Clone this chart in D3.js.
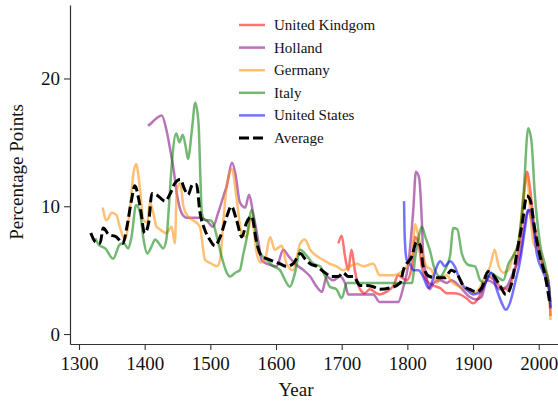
<!DOCTYPE html>
<html>
<head>
<meta charset="utf-8">
<script src="https://cdn.jsdelivr.net/npm/d3@7"></script>
<style>
  html, body { margin: 0; padding: 0; background: #fff; }
  svg { display: block; font-family: "Liberation Serif", "Times New Roman", serif; }
</style>
</head>
<body>
<svg id="chart" width="558" height="403"></svg>
<script>
// Series: [year, percentage points]
const unitedKingdom = [[1695,7.1],[1700,7.7],[1705,6.1],[1710,5.0],[1715,6.6],[1720,5.0],[1728,3.5],[1735,3.2],[1743,3.5],[1753,3.2],[1758,3.1],[1768,3.3],[1779,3.8],[1786,4.6],[1792,4.4],[1799,4.2],[1807,5.3],[1812,7.6],[1817,7.1],[1822,5.3],[1829,4.2],[1840,3.8],[1850,3.6],[1860,3.2],[1870,3.2],[1880,3.1],[1890,2.8],[1900,2.4],[1908,2.8],[1916,3.7],[1923,4.5],[1933,4.2],[1944,3.6],[1951,3.5],[1961,4.5],[1972,7.6],[1979,11.6],[1982,12.7],[1987,11.3],[1992,8.9],[1999,7.1],[2007,5.3],[2015,4.0],[2018,1.4]];

const holland = [[1405,16.3],[1410,16.5],[1416,16.8],[1426,17.1],[1433,16.0],[1439,14.4],[1444,12.9],[1449,11.0],[1456,9.5],[1464,9.1],[1484,9.1],[1494,8.9],[1504,8.4],[1512,9.5],[1520,10.8],[1525,11.6],[1533,13.4],[1538,12.6],[1545,10.3],[1553,9.9],[1559,10.9],[1565,9.5],[1573,7.3],[1578,5.8],[1586,5.5],[1601,5.3],[1611,6.6],[1619,6.1],[1629,5.5],[1642,5.0],[1652,4.5],[1662,3.7],[1670,3.3],[1677,4.5],[1687,4.2],[1697,4.5],[1705,4.0],[1710,3.1],[1748,3.1],[1758,2.5],[1786,2.5],[1794,3.7],[1801,5.3],[1809,9.7],[1813,12.7],[1818,12.2],[1822,8.9],[1824,6.3],[1829,4.5],[1834,3.5],[1840,4.0],[1850,4.2],[1860,4.0],[1867,4.2],[1880,3.7],[1895,2.9],[1905,2.7],[1913,2.9],[1921,4.2],[1931,4.0],[1941,3.5],[1951,3.7],[1961,4.8],[1972,6.3],[1979,8.7],[1984,9.7],[1989,8.9],[1997,7.1],[2007,5.3],[2015,4.0],[2018,2.1]];

const germany = [[1336,9.9],[1342,8.9],[1350,9.5],[1357,9.3],[1362,8.4],[1370,7.4],[1378,10.0],[1383,12.6],[1387,13.3],[1393,11.3],[1398,8.9],[1404,8.7],[1408,10.3],[1413,9.5],[1418,8.4],[1423,8.2],[1433,7.9],[1441,8.4],[1446,7.1],[1449,11.3],[1454,11.8],[1459,10.0],[1466,9.2],[1474,8.9],[1484,8.4],[1492,5.8],[1502,5.5],[1510,5.3],[1515,5.8],[1520,9.0],[1525,11.6],[1533,12.9],[1540,10.6],[1548,7.8],[1555,7.6],[1563,9.2],[1570,6.5],[1576,5.6],[1583,5.8],[1591,7.6],[1598,6.6],[1609,6.9],[1616,5.5],[1626,5.0],[1637,7.1],[1644,7.4],[1652,6.6],[1662,6.1],[1672,5.8],[1682,5.5],[1692,5.3],[1702,5.0],[1713,5.3],[1723,5.5],[1733,5.3],[1748,5.5],[1758,4.6],[1779,4.6],[1789,4.8],[1799,5.3],[1807,6.3],[1812,8.6],[1817,7.6],[1822,6.6],[1829,5.3],[1837,5.0],[1845,4.0],[1850,4.4],[1860,4.6],[1867,4.1],[1880,3.7],[1890,3.5],[1903,3.2],[1911,3.7],[1918,4.5],[1926,5.3],[1933,6.6],[1938,5.5],[1946,4.8],[1954,5.0],[1961,6.1],[1969,7.1],[1977,10.8],[1982,12.4],[1987,9.7],[1992,7.1],[1999,6.6],[2007,5.3],[2015,4.2],[2018,1.1]];

const italy = [[1325,7.5],[1330,7.0],[1340,6.7],[1352,5.9],[1362,7.0],[1368,7.1],[1375,6.7],[1380,7.6],[1387,10.1],[1393,9.5],[1398,7.5],[1404,6.3],[1410,6.8],[1416,7.4],[1423,7.0],[1428,6.7],[1433,7.4],[1437,10.0],[1441,13.1],[1448,15.7],[1453,15.0],[1458,15.6],[1463,14.5],[1466,13.7],[1472,16.0],[1477,18.1],[1482,16.5],[1485,12.0],[1487,9.5],[1492,8.9],[1499,8.9],[1504,8.7],[1510,7.6],[1517,6.1],[1525,4.8],[1530,4.5],[1538,4.8],[1545,5.0],[1550,6.2],[1555,7.4],[1563,9.7],[1568,8.4],[1573,6.6],[1586,5.8],[1596,5.3],[1606,5.0],[1614,4.2],[1621,3.7],[1629,4.8],[1637,6.6],[1644,6.3],[1657,5.5],[1667,5.3],[1675,4.5],[1682,3.7],[1692,3.5],[1700,2.8],[1708,4.0],[1728,4.0],[1760,4.0],[1790,4.0],[1807,4.0],[1812,6.0],[1817,7.5],[1822,8.4],[1828,7.5],[1834,6.6],[1842,5.0],[1850,4.5],[1857,5.0],[1865,6.1],[1870,8.3],[1876,8.2],[1883,6.3],[1893,5.4],[1903,5.3],[1911,4.2],[1918,4.0],[1926,4.8],[1936,4.5],[1946,4.2],[1954,5.5],[1961,6.1],[1969,7.1],[1977,11.0],[1984,16.1],[1989,15.1],[1994,11.0],[2002,7.1],[2010,5.3],[2015,4.0],[2018,2.5]];

const unitedStates = [[1795,10.4],[1796,7.6],[1799,5.8],[1804,5.5],[1809,5.0],[1817,5.0],[1824,4.5],[1832,3.6],[1837,4.0],[1845,5.3],[1850,5.7],[1857,5.3],[1865,5.7],[1873,5.2],[1880,4.2],[1890,3.5],[1900,3.1],[1911,3.3],[1921,4.2],[1928,4.8],[1936,3.5],[1944,2.4],[1950,1.9],[1956,2.4],[1964,4.0],[1972,5.8],[1979,8.2],[1984,9.7],[1989,9.5],[1997,6.3],[2007,4.8],[2015,3.7],[2018,2.0]];

const average = [[1318,7.9],[1325,7.2],[1332,7.1],[1337,8.3],[1345,7.8],[1357,7.6],[1367,7.1],[1373,8.4],[1380,10.5],[1385,11.6],[1393,10.0],[1400,7.9],[1406,8.7],[1411,11.0],[1418,10.9],[1431,10.4],[1439,11.0],[1446,11.8],[1454,12.1],[1461,11.3],[1466,10.9],[1473,11.7],[1479,11.7],[1484,9.6],[1492,8.1],[1499,7.4],[1507,6.9],[1515,7.6],[1525,9.2],[1532,10.0],[1540,8.9],[1548,7.6],[1555,8.7],[1563,9.2],[1570,7.3],[1578,6.1],[1586,5.9],[1596,5.7],[1606,5.5],[1616,5.3],[1626,5.5],[1637,6.3],[1644,5.9],[1652,5.5],[1662,5.3],[1672,4.9],[1685,4.5],[1695,4.5],[1702,4.8],[1710,4.5],[1718,4.5],[1728,3.8],[1738,3.8],[1748,3.7],[1758,3.5],[1773,3.6],[1789,4.0],[1794,5.0],[1807,6.1],[1814,7.2],[1820,6.9],[1824,5.3],[1834,4.5],[1845,4.4],[1857,4.4],[1867,5.0],[1878,4.5],[1885,3.8],[1895,3.5],[1905,3.3],[1913,3.6],[1923,4.9],[1931,4.6],[1941,3.8],[1950,3.1],[1959,4.0],[1966,6.1],[1975,8.7],[1982,10.8],[1987,10.5],[1994,8.2],[2002,6.1],[2010,4.5],[2017,2.4]];

const seriesNames = ["United Kindgom", "Holland", "Germany", "Italy", "United States", "Average"];
const seriesColors = ["red", "purple", "darkorange", "green", "blue", "black"];
const seriesData = [unitedKingdom, holland, germany, italy, unitedStates, average];

const xTicks = [1300, 1400, 1500, 1600, 1700, 1800, 1900, 2000];
const yTicks = [0, 10, 20];

const svg = d3.select("#chart");

const x = d3.scaleLinear().domain([1286.3, 2029.4]).range([70, 558]);
const y = d3.scaleLinear().domain([-0.78, 25.75]).range([344, 5]);

const line = d3.line()
  .x(d => x(d[0]))
  .y(d => y(d[1]))
  .curve(d3.curveMonotoneX);

// Country lines (semi-transparent) then the dashed average on top
seriesData.forEach((data, i) => {
  const isAvg = seriesNames[i] === "Average";
  svg.append("path")
    .datum(data)
    .attr("fill", "none")
    .attr("stroke", seriesColors[i])
    .attr("stroke-opacity", isAvg ? 1 : 0.55)
    .attr("stroke-width", isAvg ? 3 : 2.5)
    .attr("stroke-dasharray", isAvg ? "10,4" : null)
    .attr("stroke-linejoin", "round")
    .attr("d", line);
});

// Axes
const xAxis = svg.append("g")
  .attr("transform", "translate(0,344)")
  .call(d3.axisBottom(x).tickValues(xTicks).tickFormat(d3.format("d")).tickSize(6).tickPadding(7).tickSizeOuter(0));

const yAxis = svg.append("g")
  .attr("transform", "translate(70,0)")
  .call(d3.axisLeft(y).tickValues(yTicks).tickSize(6).tickPadding(4).tickSizeOuter(0));

[xAxis, yAxis].forEach(g => {
  g.selectAll(".domain").attr("stroke", "#333").attr("stroke-width", 1.2);
  g.selectAll(".tick line").attr("stroke", "#333").attr("stroke-width", 1.1);
  g.selectAll(".tick text")
    .attr("fill", "#111")
    .style("font-family", "'Liberation Serif', 'Times New Roman', serif")
    .style("font-size", "19px");
});

// Axis titles
svg.append("text")
  .attr("x", 296)
  .attr("y", 396)
  .attr("text-anchor", "middle")
  .attr("fill", "#111")
  .style("font-size", "19px")
  .text("Year");

svg.append("text")
  .attr("transform", "translate(23,172) rotate(-90)")
  .attr("text-anchor", "middle")
  .attr("fill", "#111")
  .style("font-size", "19px")
  .text("Percentage Points");

// Legend
const legend = svg.append("g");
seriesNames.forEach((name, i) => {
  const isAvg = name === "Average";
  const ly = 25 + i * 22.6;
  legend.append("line")
    .attr("x1", 239).attr("x2", 265)
    .attr("y1", ly).attr("y2", ly)
    .attr("stroke", seriesColors[i])
    .attr("stroke-opacity", isAvg ? 1 : 0.55)
    .attr("stroke-width", isAvg ? 3 : 2.5)
    .attr("stroke-dasharray", isAvg ? "10,4" : null);
  legend.append("text")
    .attr("x", 274)
    .attr("y", ly)
    .attr("dy", "0.33em")
    .attr("fill", "#111")
    .style("font-size", "15px")
    .text(name);
});
</script>
</body>
</html>
